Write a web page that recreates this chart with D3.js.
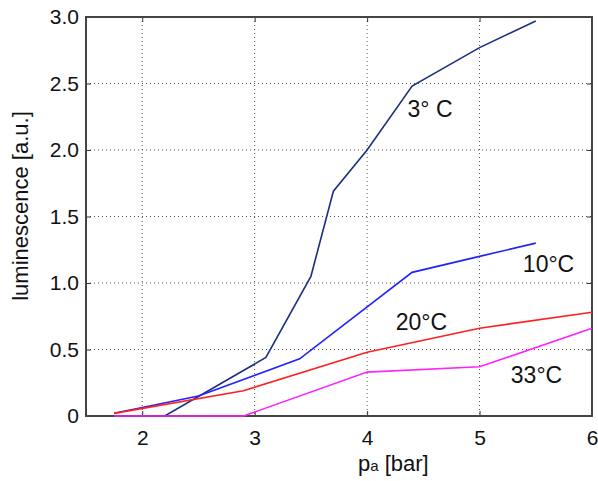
<!DOCTYPE html>
<html>
<head>
<meta charset="utf-8">
<script src="https://cdn.jsdelivr.net/npm/d3@7"></script>
<style>
  body { margin: 0; background: #fff; }
  text { font-family: "Liberation Sans", Arial, sans-serif; fill: #111; }
</style>
</head>
<body>
<div id="chart"></div>
<script>
// data: [pressure in bar, luminescence]
var series3C  = [[1.75, 0], [2.2, 0], [3.1, 0.44], [3.5, 1.05], [3.7, 1.69], [4.0, 2.0], [4.4, 2.48], [5.0, 2.77], [5.5, 2.97]];
var series10C = [[1.75, 0.02], [2.5, 0.15], [3.4, 0.43], [4.4, 1.08], [5.0, 1.2], [5.5, 1.3]];
var series20C = [[1.75, 0.02], [2.9, 0.19], [4.0, 0.48], [5.0, 0.66], [6.0, 0.78]];
var series33C = [[1.75, 0], [2.9, 0], [4.0, 0.33], [5.0, 0.37], [6.0, 0.66]];

var xTicks = [2, 3, 4, 5, 6];
var yTicks = [0, 0.5, 1.0, 1.5, 2.0, 2.5, 3.0];
var yTickLabels = ["0", "0.5", "1.0", "1.5", "2.0", "2.5", "3.0"];

// label anchors are in data units (left edge / baseline of text)
var lines = [
  { name: "3° C", data: series3C, color: "#1c2f82", lx: 4.36, ly: 2.25 },
  { name: "10°C", data: series10C, color: "#2222ff", lx: 5.385, ly: 1.085 },
  { name: "20°C", data: series20C, color: "#ff1f1f", lx: 4.255, ly: 0.647 },
  { name: "33°C", data: series33C, color: "#ff22ff", lx: 5.278, ly: 0.25 }
];

var W = 598, H = 481;
var margin = { top: 17, right: 6, bottom: 65, left: 86 },
    width = W - margin.left - margin.right,
    height = H - margin.top - margin.bottom;

var svg = d3.select("#chart")
  .append("svg")
  .attr("width", W)
  .attr("height", H)
  .append("g")
  .attr("transform", "translate(" + margin.left + "," + margin.top + ")");

var x = d3.scaleLinear().domain([1.5, 6]).range([0, width]);
var y = d3.scaleLinear().domain([0, 3]).range([height, 0]);

// dotted grid
svg.append("g")
  .selectAll("line")
  .data(xTicks.filter(function (d) { return d < 6; }))
  .enter().append("line")
  .attr("x1", function (d) { return x(d); })
  .attr("x2", function (d) { return x(d); })
  .attr("y1", 0).attr("y2", height)
  .attr("stroke", "#555").attr("stroke-width", 1)
  .attr("stroke-dasharray", "1,3");

svg.append("g")
  .selectAll("line")
  .data(yTicks.filter(function (d) { return d > 0 && d < 3; }))
  .enter().append("line")
  .attr("y1", function (d) { return y(d); })
  .attr("y2", function (d) { return y(d); })
  .attr("x1", 0).attr("x2", width)
  .attr("stroke", "#555").attr("stroke-width", 1)
  .attr("stroke-dasharray", "1,3");

// axes, ticks pointing inward like matlab
svg.append("g")
  .attr("transform", "translate(0," + height + ")")
  .call(d3.axisBottom(x).tickValues(xTicks).tickSize(-5).tickPadding(14).tickFormat(d3.format("d")));
svg.append("g")
  .call(d3.axisLeft(y).tickValues(yTicks).tickSize(-5).tickPadding(7)
    .tickFormat(function (d, i) { return yTickLabels[i]; }));
svg.append("g")
  .call(d3.axisTop(x).tickValues(xTicks).tickSize(-5).tickFormat(""));
svg.append("g")
  .attr("transform", "translate(" + width + ",0)")
  .call(d3.axisRight(y).tickValues(yTicks).tickSize(-5).tickFormat(""));

svg.selectAll(".domain").remove();
svg.selectAll(".tick line").attr("stroke", "#333");
svg.selectAll(".tick text")
  .style("font-family", "'Liberation Sans', Arial, sans-serif")
  .style("font-size", "21px")
  .attr("fill", "#111");

// box
svg.append("rect")
  .attr("width", width).attr("height", height)
  .attr("fill", "none")
  .attr("stroke", "#444").attr("stroke-width", 2);

// data lines
var line = d3.line()
  .x(function (d) { return x(d[0]); })
  .y(function (d) { return y(d[1]); });

svg.append("g")
  .selectAll("path")
  .data(lines)
  .enter().append("path")
  .attr("d", function (d) { return line(d.data); })
  .attr("fill", "none")
  .attr("stroke", function (d) { return d.color; })
  .attr("stroke-width", 1.6);

svg.append("g")
  .selectAll("text")
  .data(lines)
  .enter().append("text")
  .attr("x", function (d) { return x(d.lx); })
  .attr("y", function (d) { return y(d.ly); })
  .style("font-size", "23px")
  .text(function (d) { return d.name; });

// axis labels
var xl = svg.append("text")
  .attr("x", 272).attr("y", height + 55)
  .style("font-size", "22px");
xl.append("tspan").text("p");
xl.append("tspan").style("font-size", "15px").text("a");
xl.append("tspan").text(" [bar]");

svg.append("text")
  .attr("transform", "translate(-58," + (206 - margin.top) + ") rotate(-90)")
  .attr("text-anchor", "middle")
  .style("font-size", "22px")
  .text("luminescence [a.u.]");
</script>
</body>
</html>
